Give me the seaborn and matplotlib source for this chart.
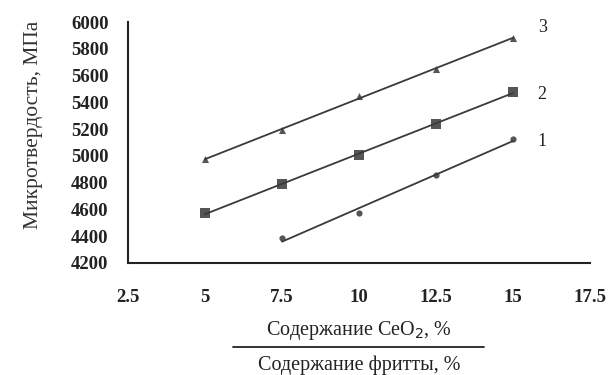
import pandas as pd
import seaborn as sns
import matplotlib.pyplot as plt
from matplotlib.lines import Line2D

# data
x_3 = [5, 7.5, 10, 12.5, 15]
y_3 = [4975, 5190, 5450, 5650, 5880]
x_2 = [5, 7.5, 10, 12.5, 15]
y_2 = [4570, 4790, 5010, 5235, 5480]
x_1 = [7.5, 10, 12.5, 15]
y_1 = [4385, 4570, 4860, 5125]
curve_labels = ["3", "2", "1"]
x_ticks = [2.5, 5, 7.5, 10, 12.5, 15, 17.5]
y_ticks = list(range(4200, 6001, 200))

sns.set_style("white")
plt.rcParams['font.family'] = ['Liberation Serif', 'DejaVu Serif']

fig = plt.figure(figsize=(6.09, 3.75), dpi=100)
ax = fig.add_axes([0.210, 0.299, 0.759, 0.642])

series = [
    (x_3, y_3, "^", 26, 80),
    (x_2, y_2, "s", 44, -20),
    (x_1, y_1, "o", 20, -20),
]
for (xs, ys, mk, sz, off), lab in zip(series, curve_labels):
    df = pd.DataFrame({"x": xs, "y": ys})
    sns.regplot(data=df, x="x", y="y", ax=ax, ci=None, truncate=True,
                marker=mk, color="#2a2a2a",
                scatter_kws={"s": sz, "linewidths": 0},
                line_kws={"lw": 1.3, "color": "#3a3a3a"})
    ax.text(15.8, ys[-1] + off, lab, fontsize=13, color="#222222",
            ha="left", va="center")

ax.set_xlim(2.5, 17.5)
ax.set_ylim(4200, 6000)
ax.set_xticks(x_ticks)
ax.set_xticklabels(["2.5", "5", "7.5", "10", "12.5", "15", "17.5"])
ax.set_yticks(y_ticks)
ax.tick_params(direction="in", length=4, width=1.2, colors="#222222",
               labelsize=13.5)
ax.tick_params(axis="x", pad=19)
ax.tick_params(axis="y", pad=14)
for t in ax.get_xticklabels() + ax.get_yticklabels():
    t.set_fontweight("bold")
for s in ["top", "right"]:
    ax.spines[s].set_visible(False)
for s in ["left", "bottom"]:
    ax.spines[s].set_linewidth(1.5)
    ax.spines[s].set_color("#222222")

ax.set_xlabel("")
ax.set_ylabel("Микротвердость, МПа", fontsize=15.5, color="#333333")
ax.yaxis.set_label_coords(-0.184, 0.575)

fig.text(0.59, 0.12, "Содержание CeO$_2$, %", ha="center", va="center",
         fontsize=14.5, color="#222222")
fig.add_artist(Line2D([233 / 609, 484 / 609], [1 - 347 / 375, 1 - 347 / 375],
                      color="#222222", lw=1.3))
fig.text(0.59, 0.027, "Содержание фритты, %", ha="center", va="center",
         fontsize=14.5, color="#222222")

fig.savefig("out.png", dpi=100)
